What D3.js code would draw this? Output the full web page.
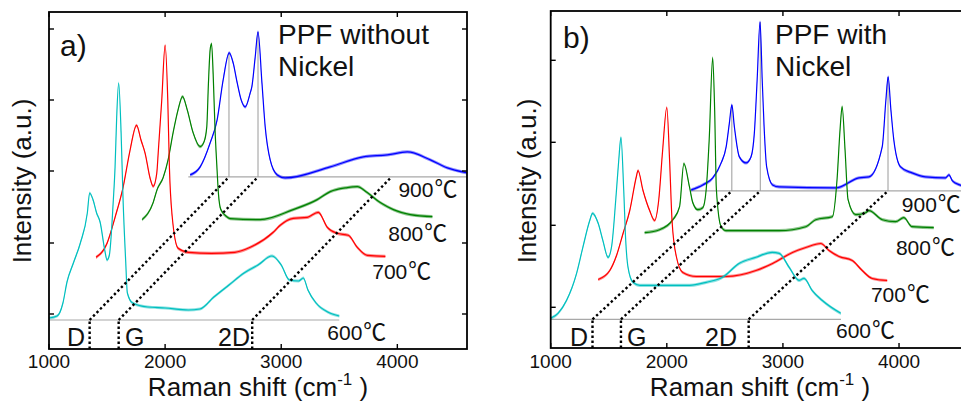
<!DOCTYPE html>
<html><head><meta charset="utf-8">
<script src="https://cdn.jsdelivr.net/npm/d3@7"></script>
<style>
body{margin:0;background:#fff}
svg{display:block}
text{font-family:"Liberation Sans",Arial,"Noto Sans CJK JP",sans-serif;fill:#111}
</style>
</head><body>
<svg id="chart" width="961" height="406"></svg>
<script>
// ---------- data ----------
const xTicks = [1000, 2000, 3000, 4000];
const temperatures = ["600", "700", "800", "900"];
const bandNames = ["D", "G", "2D"];
const xOffsets = [0, 400, 800, 1200];          // horizontal shift of each spectrum (cm-1)

// panel a) PPF without Nickel  (intensity in a.u. above each spectrum's own baseline)
const bandsA = [1350, 1600, 2750];
const yOffsetsA = [0, 47.7, 95.4, 143.1];
const yTicksA = [6, 77, 149, 220, 291];
const a600 = [[1000,2],[1070,4],[1120,17],[1155,38],[1210,57],[1270,77],[1330,107],[1350,127],[1380,120],[1410,107],[1440,98],[1480,70],[1500,60],[1520,65],[1554,120],[1569,153],[1583,203],[1600,237],[1621,187],[1638,120],[1660,60],[1675,27],[1720,17],[1850,13],[2000,12],[2200,10],[2300,11],[2420,23],[2550,35],[2680,47],[2800,55],[2920,64],[3000,55],[3070,40],[3150,39],[3190,42],[3230,30],[3300,17],[3400,8],[3500,4]];
const a700 = [[1005,15],[1100,29],[1169,55],[1238,85],[1298,122],[1354,147],[1393,132],[1428,119],[1471,94],[1497,86],[1528,99],[1542,122],[1571,172],[1600,227],[1623,172],[1637,105],[1660,57],[1712,24],[1800,20],[2000,19],[2200,20],[2333,25],[2531,40],[2591,47],[2703,54],[2824,55],[2919,60],[2997,45],[3083,39],[3178,37],[3255,25],[3341,17],[3497,16]];
const a800 = [[1002,5],[1097,22],[1131,35],[1183,47],[1226,65],[1269,92],[1312,115],[1350,128],[1390,115],[1441,92],[1502,78],[1536,83],[1559,98],[1573,141],[1588,175],[1600,181],[1614,150],[1630,95],[1645,60],[1660,30],[1680,15],[1730,8],[1760,6],[2019,5],[2303,15],[2510,25],[2622,33],[2769,37],[2855,38],[2941,32],[3053,22],[3166,15],[3312,10],[3502,8]];
const a900 = [[1016,2],[1102,10],[1188,34],[1248,57],[1300,97],[1352,124],[1386,114],[1421,94],[1455,77],[1490,70],[1533,84],[1547,90],[1576,120],[1600,145],[1634,94],[1662,50],[1705,17],[1766,2],[1834,-1],[2222,10],[2507,20],[2714,22],[2886,25],[3084,17],[3231,9],[3403,4],[3500,2]];

// panel b) PPF with Nickel
const bandsB = [1360, 1605, 2705];
const yOffsetsB = [0, 42.8, 85.6, 128.4];
const yTicksB = [12, 94, 177, 259];
const b600 = [[1000,1],[1063,6],[1137,19],[1223,46],[1277,72],[1337,99],[1360,106],[1409,96],[1449,79],[1494,62],[1526,74],[1560,119],[1586,159],[1605,182],[1629,129],[1646,79],[1666,52],[1709,37],[1767,34],[2196,34],[2339,37],[2479,42],[2625,56],[2768,62],[2908,67],[2968,66],[3054,52],[3140,39],[3182,41],[3251,29],[3337,19],[3498,6]];
const b700 = [[1009,-3],[1109,6],[1167,21],[1223,43],[1281,66],[1338,100],[1352,106],[1395,86],[1452,66],[1495,56],[1530,76],[1564,126],[1600,169],[1624,116],[1645,56],[1682,20],[1738,4],[1853,0],[2111,0],[2368,6],[2511,13],[2682,24],[2797,29],[2926,33],[2997,26],[3083,20],[3197,16],[3283,6],[3369,-2],[3498,-4]];
const b800 = [[1009,1],[1138,4],[1252,14],[1310,27],[1347,70],[1395,47],[1424,31],[1467,24],[1510,26],[1539,44],[1565,94],[1595,176],[1612,124],[1627,44],[1668,7],[1711,3],[2168,3],[2397,7],[2483,14],[2626,17],[2666,54],[2692,104],[2710,127],[2735,84],[2761,34],[2827,19],[2913,21],[2941,23],[3056,14],[3170,12],[3241,16],[3312,7],[3499,6]];
const b900 = [[1010,1],[1110,6],[1196,13],[1268,28],[1311,44],[1339,68],[1360,86],[1382,64],[1425,34],[1482,28],[1525,34],[1554,58],[1578,111],[1603,169],[1622,110],[1638,64],[1660,24],[1711,6],[1768,4],[2255,3],[2455,13],[2541,14],[2655,44],[2687,91],[2706,114],[2730,81],[2755,51],[2813,24],[2912,18],[3027,14],[3200,13],[3230,16],[3260,10],[3322,6],[3400,3]];

// ---------- layout / style ----------
const colors = ["#00BFBF", "#FF0000", "#008000", "#0000FF"];
const panels = [
  {id:"pa", left:49, top:12, bottom:349, yDomain:[-29,308], bands:bandsA, yOff:yOffsetsA, yTicks:yTicksA,
   spectra:[a600,a700,a800,a900], grayBands:[0,1], letter:"a)", letterPos:[60,56],
   title:["PPF without","Nickel"], titleX:278,
   tempPos:[[3397,-20],[3784,-7],[3922,-16],[4009,-20]],
   bandLabel:[[85,"end"],[125,"start"],[250,"end"]], yLabelX:31, xLabelX:258},
  {id:"pb", left:550.7, top:11, bottom:348, yDomain:[-28.7,308.3], bands:bandsB, yOff:yOffsetsB, yTicks:yTicksB,
   spectra:[b600,b700,b800,b900], grayBands:[0,1,2], letter:"b)", letterPos:[563,48],
   title:["PPF with","Nickel"], titleX:775,
   tempPos:[[3457,-19],[3758,-25],[3973,-21],[4024,-21]],
   bandLabel:[[588,"end"],[627,"start"],[737,"end"]], yLabelX:536, xLabelX:760}
];
const plotW = 418;

const svg = d3.select("#chart");
const defs = svg.append("defs");

panels.forEach(p => {
  const x = d3.scaleLinear().domain([1000, 4600]).range([p.left, p.left + plotW]);
  const y = d3.scaleLinear().domain(p.yDomain).range([p.bottom, p.top]);
  const right = p.left + plotW;

  defs.append("clipPath").attr("id", "clip-" + p.id)
    .append("rect").attr("x", p.left).attr("y", p.top).attr("width", plotW).attr("height", p.bottom - p.top);

  const g = svg.append("g");
  const plot = g.append("g").attr("clip-path", `url(#clip-${p.id})`);

  // gray baselines of lowest and highest spectra
  [0, 3].forEach(i => {
    plot.append("line")
      .attr("x1", x(1000 + xOffsets[i])).attr("x2", x(3500 + xOffsets[i]))
      .attr("y1", y(p.yOff[i])).attr("y2", y(p.yOff[i]))
      .attr("stroke", "#a8a8a8").attr("stroke-width", 1.2);
  });

  // gray vertical markers on top spectrum
  const top = p.spectra[3];
  p.grayBands.forEach(k => {
    const b = p.bands[k];
    const pk = d3.max(top.filter(d => Math.abs(d[0] - b) <= 25), d => d[1]);
    plot.append("line")
      .attr("x1", x(b + xOffsets[3])).attr("x2", x(b + xOffsets[3]))
      .attr("y1", y(p.yOff[3])).attr("y2", y(p.yOff[3] + pk))
      .attr("stroke", "#9a9a9a").attr("stroke-width", 1);
  });

  // spectra, top one first so the lowest lies on top
  [3, 2, 1, 0].forEach(i => {
    const line = d3.line()
      .x(d => x(d[0] + xOffsets[i]))
      .y(d => y(d[1] + p.yOff[i]))
      .curve(d3.curveMonotoneX);
    const band = d3.area()
      .x(d => x(d[0] + xOffsets[i]))
      .y0(d => y(d[1] + p.yOff[i]) + 1.6)
      .y1(d => y(d[1] + p.yOff[i]) - 1.6)
      .curve(d3.curveMonotoneX);
    const data = p.spectra[i];
    plot.append("path").datum(data).attr("d", band)
      .attr("fill", colors[i]).attr("fill-opacity", 0.45).attr("stroke", "none");
    plot.append("path").datum(data).attr("d", line)
      .attr("fill", "none").attr("stroke", colors[i]).attr("stroke-width", 1.2);
  });

  // dotted guide lines
  p.bands.forEach(b => {
    g.append("line")
      .attr("x1", x(b)).attr("y1", y(p.yOff[0]))
      .attr("x2", x(b + xOffsets[3])).attr("y2", y(p.yOff[3]))
      .attr("stroke", "#000").attr("stroke-width", 2.4).attr("stroke-dasharray", "2.4,2.6");
    g.append("line")
      .attr("x1", x(b)).attr("y1", p.bottom)
      .attr("x2", x(b)).attr("y2", y(p.yOff[0]))
      .attr("stroke", "#000").attr("stroke-width", 2.4).attr("stroke-dasharray", "2.4,2.6");
  });

  // frame
  g.append("rect").attr("x", p.left).attr("y", p.top).attr("width", plotW).attr("height", p.bottom - p.top)
    .attr("fill", "none").attr("stroke", "#000").attr("stroke-width", 1.8);

  // ticks (inward)
  xTicks.forEach(t => {
    g.append("line").attr("x1", x(t)).attr("x2", x(t)).attr("y1", p.bottom).attr("y2", p.bottom - 5)
      .attr("stroke", "#000").attr("stroke-width", 1.4);
    g.append("line").attr("x1", x(t)).attr("x2", x(t)).attr("y1", p.top).attr("y2", p.top + 5)
      .attr("stroke", "#000").attr("stroke-width", 1.4);
    g.append("text").attr("x", x(t)).attr("y", 368).attr("text-anchor", "middle")
      .attr("font-size", 19).text(d3.format("d")(t));
  });
  p.yTicks.forEach(t => {
    g.append("line").attr("x1", p.left).attr("x2", p.left + 5).attr("y1", y(t)).attr("y2", y(t))
      .attr("stroke", "#000").attr("stroke-width", 1.4);
    g.append("line").attr("x1", right).attr("x2", right - 5).attr("y1", y(t)).attr("y2", y(t))
      .attr("stroke", "#000").attr("stroke-width", 1.4);
  });

  // band labels
  p.bandLabel.forEach((bl, k) => {
    g.append("text").attr("x", bl[0]).attr("y", 346).attr("text-anchor", bl[1])
      .attr("font-size", 25).text(bandNames[k]);
  });

  // temperature labels
  temperatures.forEach((tt, i) => {
    const tp = p.tempPos[i];
    const t = g.append("text").attr("x", x(tp[0])).attr("y", y(p.yOff[i] + tp[1]))
      .attr("font-size", 21);
    t.append("tspan").text(tt);
    t.append("tspan").attr("font-family", "'Noto Sans CJK JP'").attr("font-size", 23).attr("dx", 1).text("℃");
  });

  // panel letter & title
  g.append("text").attr("x", p.letterPos[0]).attr("y", p.letterPos[1]).attr("font-size", 30).text(p.letter);
  g.append("text").attr("x", p.titleX).attr("y", 44).attr("font-size", 28).text(p.title[0]);
  g.append("text").attr("x", p.titleX).attr("y", 76).attr("font-size", 28).text(p.title[1]);

  // axis labels
  g.append("text").attr("transform", `translate(${p.yLabelX},181) rotate(-90)`)
    .attr("text-anchor", "middle").attr("font-size", 26).text("Intensity (a.u.)");
  const xl = g.append("text").attr("x", p.xLabelX).attr("y", 396).attr("text-anchor", "middle").attr("font-size", 26);
  xl.append("tspan").text("Raman shift (cm");
  xl.append("tspan").attr("font-size", 17).attr("dy", -11).text("-1");
  xl.append("tspan").attr("dy", 11).text(" )");
});
</script>
</body></html>
